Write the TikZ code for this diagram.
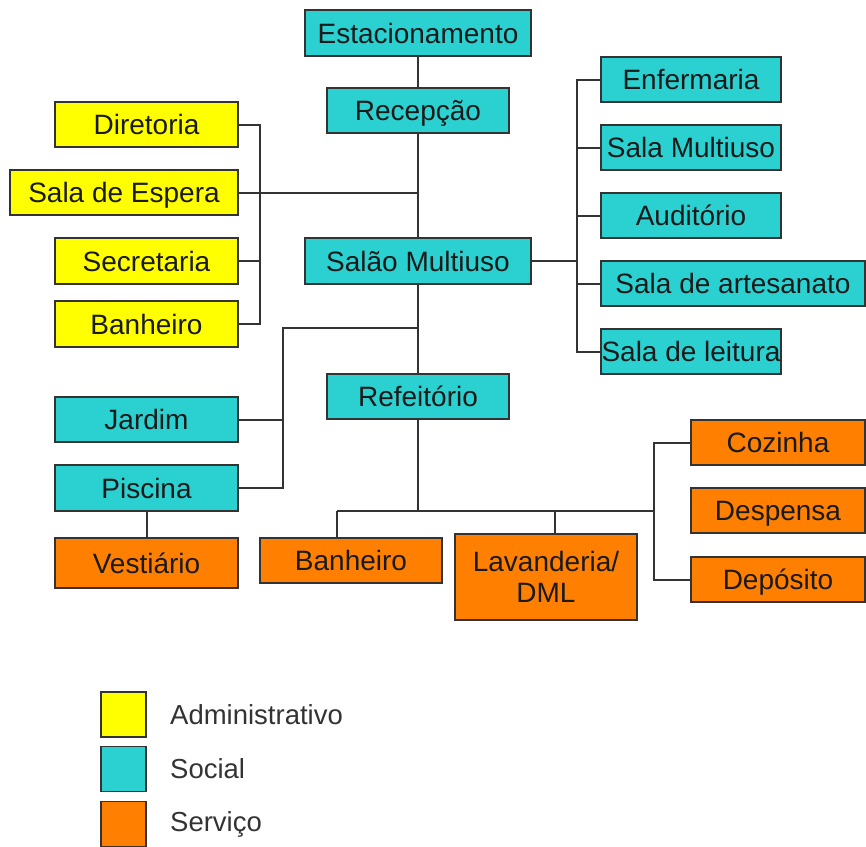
\documentclass[tikz,border=0pt]{standalone}
\usepackage{fontspec}
\setmainfont{Liberation Sans}
\definecolor{adm}{HTML}{FFFF00}
\definecolor{soc}{HTML}{2BD0D0}
\definecolor{srv}{HTML}{FF8000}
\definecolor{edge}{HTML}{333333}
\definecolor{txt}{HTML}{1A1A1A}
\begin{document}
\begin{tikzpicture}[x=1pt,y=-1pt,
  basebox/.style={draw=edge,line width=1.8pt,inner sep=0pt,text=txt,
    font=\fontsize{28}{31}\selectfont,align=center},
  box/.style={basebox,text height=22pt,text depth=2pt},
  admbox/.style={box,fill=adm},
  socbox/.style={box,fill=soc},
  srvbox/.style={box,fill=srv},
  conn/.style={draw=edge,line width=2pt},
  legtext/.style={anchor=west,inner sep=0pt,text=edge,font=\fontsize{27.5}{30}\selectfont}]
\useasboundingbox (0,0) rectangle (866,846);
% nodes
\node[socbox,minimum width=226,minimum height=46] (est) at (418,33) {Estacionamento};
\node[socbox,minimum width=182,minimum height=45] (rec) at (418,110.5) {Recepção};
\node[admbox,minimum width=183,minimum height=45] (dir) at (146.5,124.5) {Diretoria};
\node[admbox,minimum width=228,minimum height=45] (esp) at (124,192.5) {Sala de Espera};
\node[admbox,minimum width=183,minimum height=46] (sec) at (146.5,261) {Secretaria};
\node[admbox,minimum width=183,minimum height=46] (banA) at (146.5,324) {Banheiro};
\node[socbox,minimum width=226,minimum height=46] (sal) at (418,261) {Salão Multiuso};
\node[socbox,minimum width=180,minimum height=45] (enf) at (691,79.5) {Enfermaria};
\node[socbox,minimum width=180,minimum height=45] (smu) at (691,147.5) {Sala Multiuso};
\node[socbox,minimum width=180,minimum height=45] (aud) at (691,215.5) {Auditório};
\node[socbox,minimum width=264,minimum height=45] (art) at (733,283.5) {Sala de artesanato};
\node[socbox,minimum width=180,minimum height=45] (lei) at (691,351.5) {Sala de leitura};
\node[socbox,minimum width=182,minimum height=45] (ref) at (418,396.5) {Refeitório};
\node[socbox,minimum width=183,minimum height=45] (jar) at (146.5,419.5) {Jardim};
\node[socbox,minimum width=183,minimum height=46] (pis) at (146.5,488) {Piscina};
\node[srvbox,minimum width=183,minimum height=50] (ves) at (146.5,563) {Vestiário};
\node[srvbox,minimum width=182,minimum height=45] (banB) at (351,560.5) {Banheiro};
\node[basebox,fill=srv,minimum width=182,minimum height=86] (lav) at (546,577) {Lavanderia/\\DML};
\node[srvbox,minimum width=174,minimum height=45] (coz) at (778,442.5) {Cozinha};
\node[srvbox,minimum width=174,minimum height=45] (dsp) at (778,510.5) {Despensa};
\node[srvbox,minimum width=174,minimum height=45] (dpo) at (778,579.5) {Depósito};
% junction coordinates
\coordinate (bL) at (260,192.5);
\coordinate (jR) at (577,261);
\coordinate (jS) at (418,328);
\coordinate (bJ) at (283,328);
\coordinate (jB) at (418,511);
\coordinate (bB) at (337,511);
\coordinate (bLv) at (555,511);
\coordinate (bK) at (654,511);
% connectors
\draw[conn] (est) -- (rec);
\draw[conn] (rec) -- (sal);
\draw[conn] (esp.east) -- (esp.east -| rec.south);
\draw[conn] (dir.east) -| (bL) |- (banA.east);
\draw[conn] (sec.east) -- (sec.east -| bL);
\draw[conn] (sal.east) -- (jR);
\draw[conn] (enf.west) -| (jR) |- (lei.west);
\draw[conn] (smu.west) -- (smu.west -| jR);
\draw[conn] (aud.west) -- (aud.west -| jR);
\draw[conn] (art.west) -- (art.west -| jR);
\draw[conn] (sal) -- (ref);
\draw[conn] (jS) -- (bJ) |- (pis.east);
\draw[conn] (jar.east) -- (jar.east -| bJ);
\draw[conn] (pis) -- (ves);
\draw[conn] (ref.south) -- (jB);
\draw[conn] (bB) -- (bK);
\draw[conn] (bB) -- (banB.north -| bB);
\draw[conn] (bLv) -- (lav.north -| bLv);
\draw[conn] (coz.west) -| (bK) |- (dpo.west);
% legend
\node[basebox,fill=adm,minimum width=45,minimum height=45] (la) at (123.5,714.5) {};
\node[basebox,fill=soc,minimum width=45,minimum height=45] (ls) at (123.5,769) {};
\node[basebox,fill=srv,minimum width=45,minimum height=45] (lv) at (123.5,824) {};
\node[legtext] (ta) at (170,715) {Administrativo};
\node[legtext] (ts) at (170,769) {Social};
\node[legtext] (tv) at (170,824) {Serviço};
\end{tikzpicture}
\end{document}
